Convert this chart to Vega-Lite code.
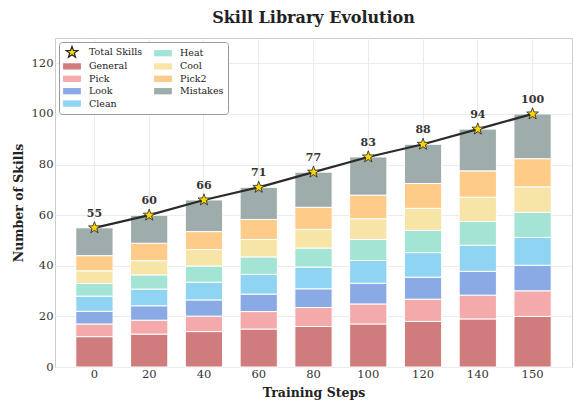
{
  "$schema": "https://vega.github.io/schema/vega-lite/v6.json",
  "width": 517,
  "height": 329,
  "autosize": {"type": "none"},
  "padding": {"left": 55, "top": 38, "right": 2, "bottom": 34},
  "background": "white",
  "title": {"text": "Skill Library Evolution", "font": "DejaVu Serif", "fontSize": 16, "fontWeight": "bold", "color": "#222222", "offset": 12, "anchor": "middle"},
  "datasets": {
    "bars": [
      {"step": 0, "skill": "General", "count": 12}, {"step": 0, "skill": "Pick", "count": 5}, {"step": 0, "skill": "Look", "count": 5}, {"step": 0, "skill": "Clean", "count": 6}, {"step": 0, "skill": "Heat", "count": 5}, {"step": 0, "skill": "Cool", "count": 5}, {"step": 0, "skill": "Pick2", "count": 6}, {"step": 0, "skill": "Mistakes", "count": 11},
      {"step": 20, "skill": "General", "count": 13}, {"step": 20, "skill": "Pick", "count": 5.5}, {"step": 20, "skill": "Look", "count": 5.7}, {"step": 20, "skill": "Clean", "count": 6.6}, {"step": 20, "skill": "Heat", "count": 5.6}, {"step": 20, "skill": "Cool", "count": 5.6}, {"step": 20, "skill": "Pick2", "count": 6.9}, {"step": 20, "skill": "Mistakes", "count": 11.1},
      {"step": 40, "skill": "General", "count": 14}, {"step": 40, "skill": "Pick", "count": 6.1}, {"step": 40, "skill": "Look", "count": 6.4}, {"step": 40, "skill": "Clean", "count": 7}, {"step": 40, "skill": "Heat", "count": 6.4}, {"step": 40, "skill": "Cool", "count": 6.5}, {"step": 40, "skill": "Pick2", "count": 7.1}, {"step": 40, "skill": "Mistakes", "count": 12.5},
      {"step": 60, "skill": "General", "count": 15}, {"step": 60, "skill": "Pick", "count": 6.9}, {"step": 60, "skill": "Look", "count": 6.9}, {"step": 60, "skill": "Clean", "count": 7.8}, {"step": 60, "skill": "Heat", "count": 6.9}, {"step": 60, "skill": "Cool", "count": 6.9}, {"step": 60, "skill": "Pick2", "count": 7.9}, {"step": 60, "skill": "Mistakes", "count": 12.7},
      {"step": 80, "skill": "General", "count": 16}, {"step": 80, "skill": "Pick", "count": 7.5}, {"step": 80, "skill": "Look", "count": 7.4}, {"step": 80, "skill": "Clean", "count": 8.6}, {"step": 80, "skill": "Heat", "count": 7.5}, {"step": 80, "skill": "Cool", "count": 7.4}, {"step": 80, "skill": "Pick2", "count": 8.7}, {"step": 80, "skill": "Mistakes", "count": 13.9},
      {"step": 100, "skill": "General", "count": 17}, {"step": 100, "skill": "Pick", "count": 7.9}, {"step": 100, "skill": "Look", "count": 8.2}, {"step": 100, "skill": "Clean", "count": 9}, {"step": 100, "skill": "Heat", "count": 8.3}, {"step": 100, "skill": "Cool", "count": 8.2}, {"step": 100, "skill": "Pick2", "count": 9.3}, {"step": 100, "skill": "Mistakes", "count": 15.1},
      {"step": 120, "skill": "General", "count": 18}, {"step": 120, "skill": "Pick", "count": 8.8}, {"step": 120, "skill": "Look", "count": 8.7}, {"step": 120, "skill": "Clean", "count": 9.7}, {"step": 120, "skill": "Heat", "count": 8.8}, {"step": 120, "skill": "Cool", "count": 8.7}, {"step": 120, "skill": "Pick2", "count": 9.8}, {"step": 120, "skill": "Mistakes", "count": 15.5},
      {"step": 140, "skill": "General", "count": 19}, {"step": 140, "skill": "Pick", "count": 9.4}, {"step": 140, "skill": "Look", "count": 9.4}, {"step": 140, "skill": "Clean", "count": 10.3}, {"step": 140, "skill": "Heat", "count": 9.4}, {"step": 140, "skill": "Cool", "count": 9.6}, {"step": 140, "skill": "Pick2", "count": 10.4}, {"step": 140, "skill": "Mistakes", "count": 16.5},
      {"step": 150, "skill": "General", "count": 20}, {"step": 150, "skill": "Pick", "count": 10.1}, {"step": 150, "skill": "Look", "count": 10.1}, {"step": 150, "skill": "Clean", "count": 11}, {"step": 150, "skill": "Heat", "count": 9.9}, {"step": 150, "skill": "Cool", "count": 10.1}, {"step": 150, "skill": "Pick2", "count": 11.1}, {"step": 150, "skill": "Mistakes", "count": 17.7}
    ],
    "totals": [
      {"step": 0, "skill": "Total Skills", "total": 55}, {"step": 20, "skill": "Total Skills", "total": 60}, {"step": 40, "skill": "Total Skills", "total": 66}, {"step": 60, "skill": "Total Skills", "total": 71}, {"step": 80, "skill": "Total Skills", "total": 77},
      {"step": 100, "skill": "Total Skills", "total": 83}, {"step": 120, "skill": "Total Skills", "total": 88}, {"step": 140, "skill": "Total Skills", "total": 94}, {"step": 150, "skill": "Total Skills", "total": 100}
    ]
  },
  "encoding": {
    "x": {
      "field": "step", "type": "ordinal",
      "scale": {"paddingInner": 0.32, "paddingOuter": 0.38},
      "axis": {"title": "Training Steps", "labelAngle": 0, "grid": true, "labelPadding": 1, "titlePadding": 7}
    }
  },
  "layer": [
    {
      "data": {"name": "bars"},
      "transform": [
        {"calculate": "indexof(['General','Pick','Look','Clean','Heat','Cool','Pick2','Mistakes'], datum.skill)", "as": "stackOrder"}
      ],
      "mark": {"type": "bar", "stroke": "white", "strokeWidth": 1, "opacity": 1},
      "encoding": {
        "y": {
          "field": "count", "type": "quantitative", "stack": "zero",
          "scale": {"domain": [0, 130], "nice": false},
          "axis": {"title": "Number of Skills", "values": [0, 20, 40, 60, 80, 100, 120], "grid": true, "labelPadding": 2, "titlePadding": 6}
        },
        "order": {"field": "stackOrder", "type": "quantitative", "sort": "ascending"},
        "color": {
          "field": "skill", "type": "nominal", "title": null,
          "scale": {
            "domain": ["Total Skills", "General", "Pick", "Look", "Clean", "Heat", "Cool", "Pick2", "Mistakes"],
            "range": ["#FFD700", "#d17c7c", "#f4aaaa", "#8aaae6", "#8fd4f2", "#a3e4d4", "#f7e4a7", "#fecb88", "#9eadab"]
          }
        }
      }
    },
    {
      "data": {"name": "totals"},
      "mark": {"type": "line", "color": "#2b2b2b", "strokeWidth": 2.2},
      "encoding": {"y": {"field": "total", "type": "quantitative"}}
    },
    {
      "data": {"name": "totals"},
      "mark": {"type": "point", "size": 115, "filled": true, "strokeWidth": 0.8, "opacity": 1},
      "encoding": {
        "y": {"field": "total", "type": "quantitative"},
        "color": {"field": "skill", "type": "nominal", "title": null},
        "shape": {
          "field": "skill", "type": "nominal", "title": null,
          "scale": {
            "domain": ["Total Skills", "General", "Pick", "Look", "Clean", "Heat", "Cool", "Pick2", "Mistakes"],
            "range": [
              "M0,-1.15L0.27,-0.372L1.094,-0.355L0.437,0.142L0.676,0.93L0,0.46L-0.676,0.93L-0.437,0.142L-1.094,-0.355L-0.27,-0.372Z",
              "M-1.7,-0.6H1.7V0.6H-1.7Z", "M-1.7,-0.6H1.7V0.6H-1.7Z", "M-1.7,-0.6H1.7V0.6H-1.7Z", "M-1.7,-0.6H1.7V0.6H-1.7Z",
              "M-1.7,-0.6H1.7V0.6H-1.7Z", "M-1.7,-0.6H1.7V0.6H-1.7Z", "M-1.7,-0.6H1.7V0.6H-1.7Z", "M-1.7,-0.6H1.7V0.6H-1.7Z"
            ]
          }
        },
        "stroke": {
          "field": "skill", "type": "nominal", "title": null,
          "scale": {
            "domain": ["Total Skills", "General", "Pick", "Look", "Clean", "Heat", "Cool", "Pick2", "Mistakes"],
            "range": ["#222222", "transparent", "transparent", "transparent", "transparent", "transparent", "transparent", "transparent", "transparent"]
          }
        }
      }
    },
    {
      "data": {"name": "totals"},
      "mark": {"type": "text", "dy": -14, "font": "DejaVu Serif", "fontSize": 11, "fontWeight": "bold", "color": "#333333"},
      "encoding": {"y": {"field": "total", "type": "quantitative"}, "text": {"field": "total", "type": "quantitative"}}
    }
  ],
  "config": {
    "view": {"stroke": "#cccccc"},
    "axis": {
      "labelFont": "DejaVu Serif", "titleFont": "DejaVu Serif", "labelFontSize": 11.5, "titleFontSize": 12.5,
      "titleFontWeight": "bold", "labelColor": "#333333", "titleColor": "#222222",
      "gridColor": "#ebebeb", "domain": false, "ticks": false
    },
    "legend": {
      "orient": "top-left",
      "offset": 4,
      "columns": 2,
      "strokeColor": "#999999",
      "fillColor": "white",
      "cornerRadius": 3,
      "padding": 4,
      "symbolSize": 110,
      "symbolOffset": 3,
      "symbolStrokeWidth": 1.2,
      "labelOffset": 11,
      "labelFont": "DejaVu Serif",
      "labelFontSize": 9.5,
      "labelColor": "#222222",
      "rowPadding": 0.4,
      "columnPadding": 8,
      "symbolOpacity": 1
    }
  }
}
